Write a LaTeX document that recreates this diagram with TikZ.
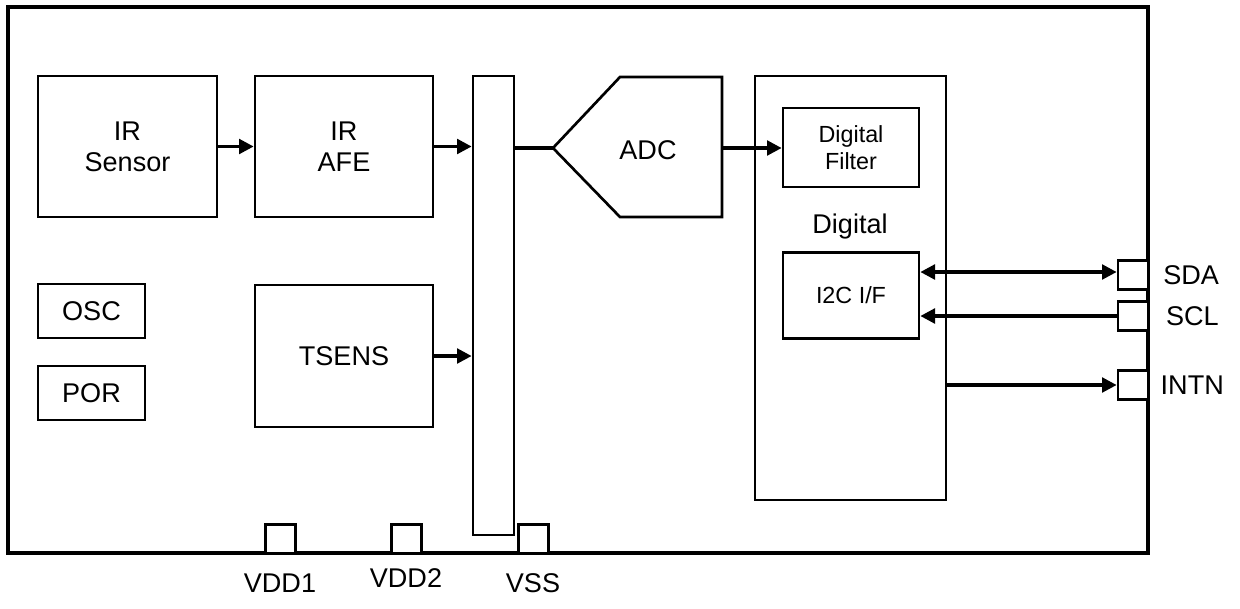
\documentclass[tikz,border=0pt]{standalone}
\usepackage{fontspec}
\setmainfont{Liberation Sans}
\usetikzlibrary{arrows.meta}
\begin{document}
\begin{tikzpicture}[
        x=0.75pt, y=-0.75pt,
        >={Triangle[length=11pt,width=11pt]},
        font=\fontsize{20.3}{23}\selectfont,
        block/.style 2 args = {
            draw, line width=2pt, rectangle, inner sep=0pt,
            minimum width=#1*0.75pt, minimum height=#2*0.75pt,
            align=center
        },
        small/.style = {font=\fontsize{17.5}{20}\selectfont},
        pin/.style = {block={30}{29}, fill=white},
        wire/.style = {line width=2.5pt}
    ]
        \useasboundingbox (0,0) rectangle (1240,608);

        % chip outline
        \draw[line width=3.5pt] (8,7) rectangle (1148,553);

        % analog front
        \node[block={179}{141}] (IRS)   at (127.5,146.5) {IR\\Sensor};
        \node[block={178}{141}] (AFE)   at (344,146.5)   {IR\\AFE};
        \node[block={178}{142}] (TSENS) at (344,356)     {TSENS};
        \node[block={41}{459}]  (MUX)   at (493.5,305.5) {};

        \node[block={107}{54}]  (OSC)   at (91.5,311)    {OSC};
        \node[block={107}{54}]  (POR)   at (91.5,393)    {POR};

        % ADC
        \coordinate (ADCin)  at (553,148);
        \coordinate (ADCout) at (722,148);
        \draw[line width=2pt, line join=miter] (ADCin) -- (620,77) -- (722,77) -- (722,217) -- (620,217) -- cycle;
        \node (ADC) at (648,150) {ADC};

        % digital
        \node[block={191}{424}] (DIG) at (850.5,288) {};
        \node (DIGlbl) at (850,226) {Digital};
        \node[block={136}{79}, small] (DF)  at (851,147.5) {Digital\\Filter};
        \node[block={136}{86}, small] (I2C) at (851,295.5) {I2C I/F};

        % pins
        \node[pin] (SDA)  at (1133,275)   {};
        \node[pin] (SCL)  at (1133,316)   {};
        \node[pin] (INTN) at (1133,385)   {};
        \node[pin] (VDD1) at (280.5,539)  {};
        \node[pin] (VDD2) at (406.5,539)  {};
        \node[pin] (VSS)  at (533.5,539)  {};

        \node[anchor=west] (SDAlbl)  at ([xshift=7pt]SDA.east)  {SDA};
        \node[anchor=west] (SCLlbl)  at ([xshift=9pt]SCL.east)  {SCL};
        \node[anchor=west] (INTNlbl) at ([xshift=5pt]INTN.east) {INTN};
        \node (VDD1lbl) at (280,583) {VDD1};
        \node (VDD2lbl) at (406,578) {VDD2};
        \node (VSSlbl)  at (533,583) {VSS};

        % signal flow
        \draw[wire,->] (IRS.east) -- (AFE.west);
        \draw[wire,->] (AFE.east) -- (AFE.east -| MUX.west);
        \draw[wire,->] (TSENS.east) -- (TSENS.east -| MUX.west);
        \draw[wire] (MUX.east |- ADCin) -- (ADCin);
        \draw[wire,->] (ADCout) -- (ADCout -| DF.west);

        \draw[wire,<->] (I2C.east |- 0,272) -- (SDA.west |- 0,272);
        \draw[wire,->] (SCL.west) -- (SCL.west -| I2C.east);
        \draw[wire,->] (INTN.west -| DIG.east) -- (INTN.west);
    \end{tikzpicture}
\end{document}
